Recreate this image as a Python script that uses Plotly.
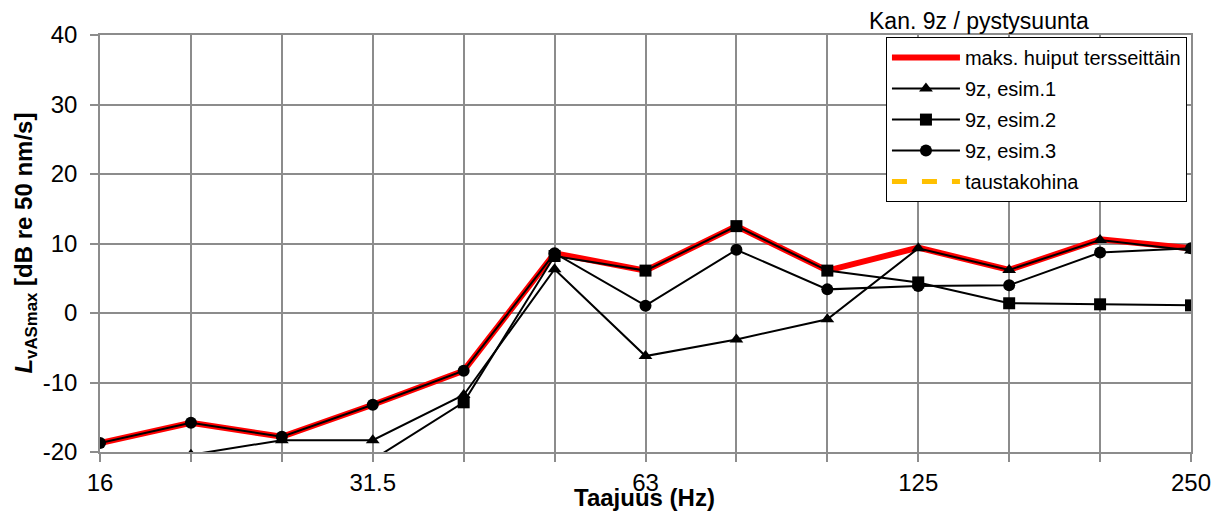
import plotly.graph_objects as go

freqs = ["16", "20", "25", "31.5", "40", "50", "63", "80", "100", "125", "160", "200", "250"]
tick_labels = ["16", "", "", "31.5", "", "", "63", "", "", "125", "", "", "250"]
y_ticks = [-20, -10, 0, 10, 20, 30, 40]
y_tick_labels = ["-20", "-10", "0", "10", "20", "30", "40"]

max_peaks = [-18.7, -15.8, -17.8, -13.2, -8.3, 8.6, 6.1, 12.5, 6.1, 9.4, 6.2, 10.6, 9.3]
esim1 = [-25.0, -20.4, -18.3, -18.3, -11.8, 6.3, -6.2, -3.8, -0.9, 9.3, 6.2, 10.5, 9.0]
esim2 = [-26.0, -25.0, -24.0, -21.1, -12.85, 8.2, 6.1, 12.5, 6.1, 4.4, 1.4, 1.25, 1.1]
esim3 = [-18.7, -15.8, -17.8, -13.2, -8.3, 8.6, 1.05, 9.1, 3.4, 3.9, 4.0, 8.7, 9.3]
noise = [None] * len(freqs)

FONT = "Liberation Sans, Arial, sans-serif"
GRID = "#8c8c8c"

fig = go.Figure()
fig.add_trace(go.Scatter(x=freqs, y=max_peaks, name="maks. huiput tersseittäin",
                         legendgroup="a", mode="lines", line=dict(color="#ff0000", width=6)))
fig.add_trace(go.Scatter(x=freqs, y=esim1, name="9z, esim.1", legendgroup="b",
                         mode="lines+markers", line=dict(color="black", width=2),
                         marker=dict(symbol="triangle-up", size=12, color="black")))
fig.add_trace(go.Scatter(x=freqs, y=esim2, name="9z, esim.2", legendgroup="c",
                         mode="lines+markers", line=dict(color="black", width=2),
                         marker=dict(symbol="square", size=12, color="black")))
fig.add_trace(go.Scatter(x=freqs, y=esim3, name="9z, esim.3", legendgroup="d",
                         mode="lines+markers", line=dict(color="black", width=2),
                         marker=dict(symbol="circle", size=12, color="black")))
fig.add_trace(go.Scatter(x=freqs, y=noise, name="taustakohina", legendgroup="e",
                         mode="lines", line=dict(color="#ffc000", width=5, dash="dash")))

fig.update_layout(
    width=1220, height=514,
    margin=dict(l=100, r=29, t=35, b=62),
    paper_bgcolor="white", plot_bgcolor="white",
    font=dict(family=FONT, size=24, color="black"),
    showlegend=True,
    legend=dict(x=0.7204, y=0.995, xanchor="left", yanchor="top",
                bgcolor="white", bordercolor="black", borderwidth=1,
                font=dict(size=20, family=FONT), itemwidth=68,
                tracegroupgap=2),
    xaxis=dict(type="category", range=[0, 12], tickmode="array",
               tickvals=freqs, ticktext=tick_labels, automargin=False,
               showgrid=True, gridcolor=GRID, gridwidth=1.5,
               ticks="outside", ticklen=8, tickcolor=GRID, tickwidth=1.5,
               showline=True, linecolor=GRID, linewidth=1.5, mirror=True,
               zeroline=False, tickfont=dict(size=24)),
    yaxis=dict(range=[-20, 40], tickmode="array", tickvals=y_ticks, ticktext=y_tick_labels,
               automargin=False,
               showgrid=True, gridcolor=GRID, gridwidth=1.5,
               ticks="outside", ticklen=8, tickcolor=GRID, tickwidth=1.5,
               showline=True, linecolor=GRID, linewidth=1.5, mirror=True,
               zeroline=False, tickfont=dict(size=24), ticklabelstandoff=8),
    annotations=[
        dict(text="Kan. 9z / pystysuunta", xref="paper", yref="paper",
             x=0.8057, y=1.0336, xanchor="center", yanchor="middle",
             showarrow=False, font=dict(size=23, family=FONT)),
        dict(text="<b>Taajuus (Hz)</b>", xref="paper", yref="paper",
             x=0.4995, y=-0.108, xanchor="center", yanchor="middle",
             showarrow=False, font=dict(size=24, family=FONT)),
        dict(text="<b><i>L</i><sub>vASmax</sub> [dB re 50 nm/s]</b>", xref="paper", yref="paper",
             x=-0.0687, y=0.5, xanchor="center", yanchor="middle", textangle=-90,
             showarrow=False, font=dict(size=24, family=FONT)),
    ],
)

fig.write_html("out.html", config={"displayModeBar": False},
               post_script="document.body.style.margin='0';document.body.style.overflow='hidden';")
